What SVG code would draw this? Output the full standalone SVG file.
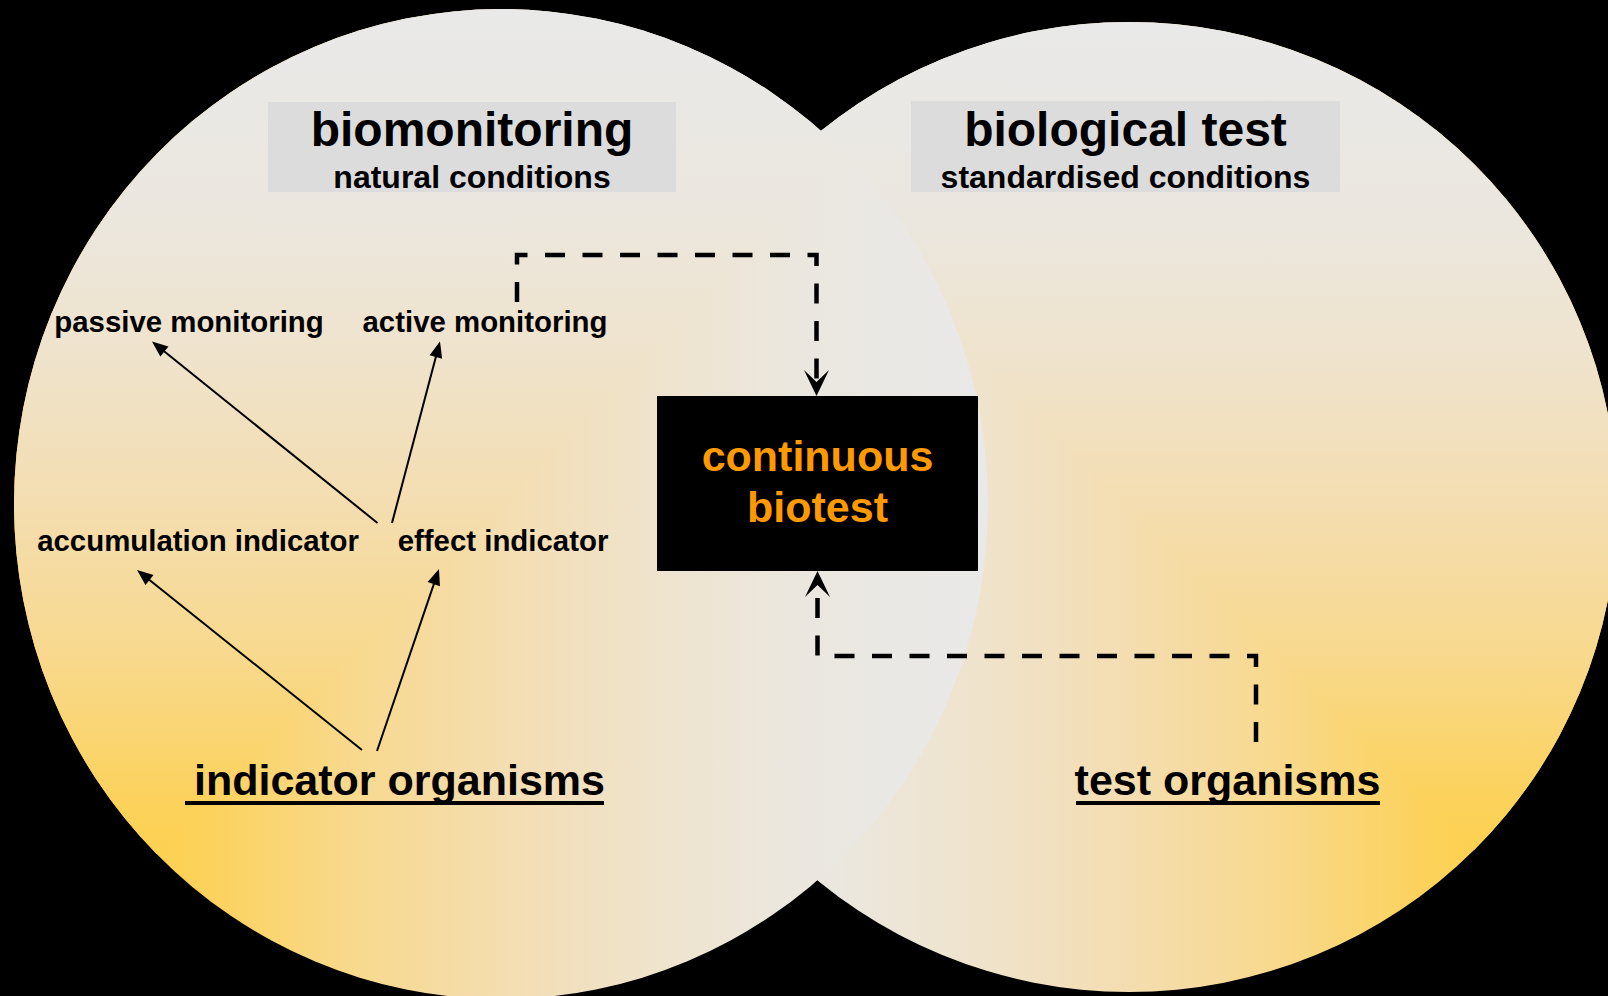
<svg xmlns="http://www.w3.org/2000/svg" width="1608" height="996" viewBox="0 0 1608 996">
  <defs>
    <style>
      text { font-family: "Liberation Sans", Arial, Helvetica, sans-serif; font-weight: bold; fill: #000; text-anchor: middle; }
      .title { font-size: 48px; }
      .sub { font-size: 32px; }
      .label { font-size: 29.4px; }
      .organisms { font-size: 43px; }
      .core { font-size: 43px; fill: #ff9900; }
      .hdr { fill: #dcdcdc; }
      .underline { stroke: #000; stroke-width: 4; }
      .link { fill: none; stroke: #000; stroke-width: 2; marker-end: url(#head); }
      .flow { fill: none; stroke: #000; stroke-width: 4.5; stroke-dasharray: 20 17.5; marker-end: url(#stealth); }
    </style>

    <!-- shared colour ramp: warm gold at the corner, pale grey far away -->
    <linearGradient id="ramp">
      <stop offset="0" stop-color="#ffcc33"/>
      <stop offset="0.2" stop-color="#fcd25c"/>
      <stop offset="0.35" stop-color="#f8d98e"/>
      <stop offset="0.5" stop-color="#f4ddb0"/>
      <stop offset="0.65" stop-color="#efe3cc"/>
      <stop offset="0.8" stop-color="#ebe7df"/>
      <stop offset="1" stop-color="#e9e9e9"/>
    </linearGradient>

    <!-- left lobe: rectangular gradient from its lower-left corner -->
    <linearGradient id="leftH" href="#ramp" gradientUnits="userSpaceOnUse" x1="14" y1="0" x2="988" y2="0"/>
    <linearGradient id="leftV" href="#ramp" gradientUnits="userSpaceOnUse" x1="0" y1="999" x2="0" y2="9"/>
    <clipPath id="leftUpper">
      <polygon points="-20,1033.6 -20,-20 1016.5,-20"/>
    </clipPath>

    <!-- right lobe: rectangular gradient from its lower-right corner -->
    <linearGradient id="rightH" href="#ramp" gradientUnits="userSpaceOnUse" x1="1617" y1="0" x2="641" y2="0"/>
    <linearGradient id="rightV" href="#ramp" gradientUnits="userSpaceOnUse" x1="0" y1="992" x2="0" y2="22"/>
    <clipPath id="rightUpper">
      <polygon points="1640,1014.9 1640,-20 598.7,-20"/>
    </clipPath>

    <!-- small filled arrowhead for the thin links -->
    <marker id="head" markerUnits="userSpaceOnUse" markerWidth="30" markerHeight="30" refX="0" refY="0" orient="auto" overflow="visible">
      <path d="M12,0 L-4,-6.5 L-4,6.5 Z" fill="#000"/>
    </marker>
    <!-- notched arrowhead for the dashed flows -->
    <marker id="stealth" markerUnits="userSpaceOnUse" markerWidth="40" markerHeight="40" refX="0" refY="0" orient="auto" overflow="visible">
      <path d="M14,0 L-12,-12.5 L0,0 L-12,12.5 Z" fill="#000"/>
    </marker>
  </defs>

  <rect width="1608" height="996" fill="#000"/>

  <!-- right lobe (drawn first, partly covered by the left lobe) -->
  <g id="lobe-right">
    <ellipse cx="1129" cy="507" rx="488" ry="485" fill="url(#rightH)"/>
    <ellipse cx="1129" cy="507" rx="488" ry="485" fill="url(#rightV)" clip-path="url(#rightUpper)"/>
  </g>

  <!-- left lobe -->
  <g id="lobe-left">
    <ellipse cx="501" cy="504" rx="487" ry="495" fill="url(#leftH)"/>
    <ellipse cx="501" cy="504" rx="487" ry="495" fill="url(#leftV)" clip-path="url(#leftUpper)"/>
  </g>

  <g id="biomonitoring">
    <rect class="hdr" x="268" y="102" width="408" height="90"/>
    <text class="title" x="472" y="146">biomonitoring</text>
    <text class="sub" x="472" y="188">natural conditions</text>
  </g>

  <g id="biological-test">
    <rect class="hdr" x="911" y="101" width="429" height="91"/>
    <text class="title" x="1125.5" y="146">biological test</text>
    <text class="sub" x="1125.5" y="188">standardised conditions</text>
  </g>

  <g id="passive-monitoring">
    <text class="label" x="189" y="332">passive monitoring</text>
  </g>
  <g id="active-monitoring">
    <text class="label" x="485" y="332">active monitoring</text>
  </g>
  <g id="accumulation-indicator">
    <text class="label" x="198" y="551">accumulation indicator</text>
  </g>
  <g id="effect-indicator">
    <text class="label" x="503" y="551">effect indicator</text>
  </g>

  <g id="indicator-organisms">
    <text class="organisms" x="399.5" y="795">indicator organisms</text>
    <line class="underline" x1="185" y1="803" x2="604" y2="803"/>
  </g>
  <g id="test-organisms">
    <text class="organisms" x="1227.5" y="795">test organisms</text>
    <line class="underline" x1="1076" y1="803" x2="1380" y2="803"/>
  </g>

  <g id="continuous-biotest">
    <rect x="657" y="396" width="321" height="175" fill="#000"/>
    <text class="core" x="817.5" y="471">continuous</text>
    <text class="core" x="817.5" y="522">biotest</text>
  </g>

  <g id="connectors">
    <!-- effect indicator -> passive / active monitoring -->
    <line class="link" x1="377.5" y1="523" x2="161.3" y2="349"/>
    <line class="link" x1="392" y1="523" x2="436.9" y2="353.1"/>
    <!-- indicator organisms -> accumulation / effect indicator -->
    <line class="link" x1="362" y1="750" x2="146.4" y2="577.5"/>
    <line class="link" x1="377" y1="751" x2="435.1" y2="580.4"/>
    <!-- dashed flows into the continuous biotest -->
    <path class="flow" d="M517,302 V255 H816.5 V382"/>
    <path class="flow" d="M1256,742 V656 H817.5 V585"/>
  </g>
</svg>
